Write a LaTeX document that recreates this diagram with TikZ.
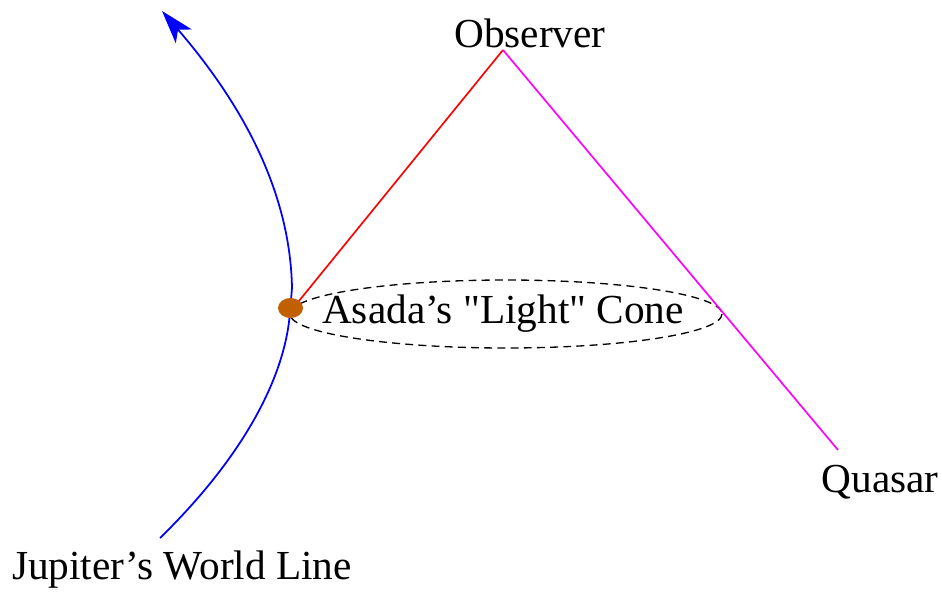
\documentclass[tikz,border=0pt]{standalone}
\usepackage{fontspec}
\setmainfont{Liberation Serif}[Ligatures=TeXOff]
\usetikzlibrary{arrows.meta}

\definecolor{jupbrown}{RGB}{192,96,0}
\definecolor{qmag}{RGB}{255,0,255}
\definecolor{obsred}{RGB}{255,0,0}

\begin{document}
\begin{tikzpicture}[
        x=0.02cm, y=-0.02cm,
        lbl/.style={font=\fontsize{23.5}{27}\selectfont, inner sep=0pt},
        cone/.style={dash pattern=on 4.5pt off 3pt, line width=0.75pt},
        ray/.style={line width=0.95pt},
        world/.style={blue, line width=1pt, -{Stealth[length=19pt, width=12pt, inset=5pt]}}
    ]
        \useasboundingbox (0,0) rectangle (942,591);

        % events
        \coordinate (obs) at (503,50);
        \coordinate (quasar) at (838,450);
        \coordinate (event) at (290,312);
        \coordinate (kink) at (292,288);
        \coordinate (past) at (160,538);
        \coordinate (future) at (162,11);

        % labels
        \node[lbl] (obslbl) at (530,33) {Observer};
        \node[lbl] (qlbl) at (880,482) {Quasar};
        \node[lbl] (jlbl) at (182,570) {Jupiter’s World Line};
        \node[lbl] (cone) at (503,314) {Asada’s "Light" Cone};
        \draw[cone] (506,314) ellipse (216 and 34);

        % light rays
        \draw[ray, obsred] (event) -- (obs);
        \draw[ray, qmag] (obs) -- (quasar);

        % Jupiter
        \draw[world] (past) .. controls (240,460) and (285,380) .. (event)
            -- (kink) .. controls (290,180) and (230,90) .. (future);
        \fill[jupbrown] (290.5,308) ellipse (12.5 and 10);
    \end{tikzpicture}
\end{document}
